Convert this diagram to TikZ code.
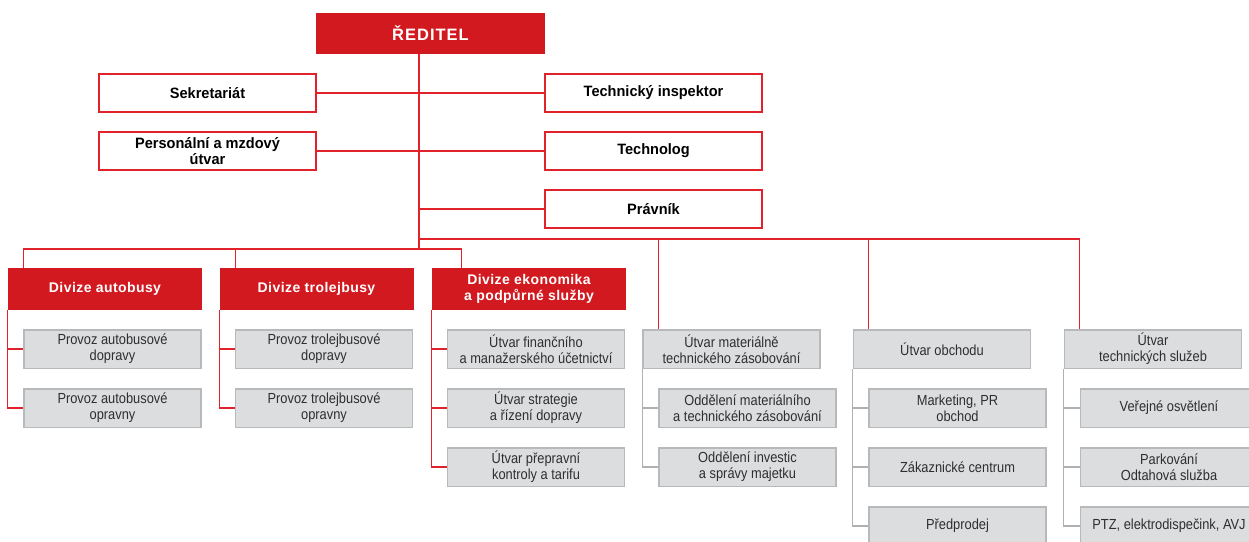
\documentclass[tikz,border=0pt]{standalone}
\usepackage{fontspec}
\setmainfont{Liberation Sans}
\newfontfamily\boldf[FakeStretch=0.97]{Liberation Sans Bold}
\newfontfamily\headf[LetterSpace=6]{Liberation Sans Bold}
\newfontfamily\divf[LetterSpace=3]{Liberation Sans Bold}
\newfontfamily\condf[FakeStretch=0.88]{Liberation Sans}
\usetikzlibrary{calc}
\definecolor{cred}{HTML}{D1191F}
\definecolor{cline}{HTML}{E1222B}
\definecolor{gfill}{HTML}{DCDDDF}
\definecolor{gedge}{HTML}{B8B9BB}
\definecolor{gline}{HTML}{B0B0B0}
\definecolor{gtext}{HTML}{2E2E2E}
\tikzset{
  redline/.style={draw=cline, line width=1.2pt},
  grayline/.style={draw=gline, line width=1.1pt},
  topbox/.style={rectangle, fill=cred, text=white, minimum width=229pt, minimum height=41pt, inner sep=0pt, font=\headf\fontsize{16.5}{18}\selectfont},
  staffbox/.style={rectangle, draw=cline, line width=2pt, fill=white, text=black, minimum width=217pt, minimum height=38pt, inner sep=0pt, align=center, font=\boldf\fontsize{15}{16.5}\selectfont},
  divbox/.style={rectangle, fill=cred, text=white, minimum width=194pt, minimum height=42pt, inner sep=0pt, align=center, font=\divf\fontsize{14}{16}\selectfont},
  unitbox/.style={rectangle, draw=gedge, line width=1.5pt, fill=gfill, text=gtext, minimum width=177pt, minimum height=38.5pt, inner sep=0pt, align=center, font=\condf\fontsize{14.6}{16}\selectfont},
}
\begin{document}
\begin{tikzpicture}[x=1pt,y=-1pt]
\useasboundingbox (0,0) rectangle (1249,541);
\clip (0,0) rectangle (1249,541);
\fill[white] (0,0) rectangle (1249,541);

% director and staff
\node[topbox] (red) at (430.5,33.5) {ŘEDITEL};
\node[staffbox] (sek) at (207.5,93) {Sekretariát};
\node[staffbox] (pers) at (207.5,151) {Personální a mzdový\\útvar};
\node[staffbox] (tinsp) at (653.5,93) {Technický inspektor};
\node[staffbox] (tech) at (653.5,151) {Technolog};
\node[staffbox] (prav) at (653.5,209) {Právník};

\coordinate (jL) at (419,249);
\coordinate (jR) at (419,239);

% divisions
\node[divbox] (dauto) at (105,289) {Divize autobusy};
\node[divbox] (dtrol) at (316.5,289) {Divize trolejbusy};
\node[divbox] (dekon) at (529,289) {Divize ekonomika\\a podpůrné služby};

% units under divisions
\node[unitbox] (a1) at (112.5,349) {Provoz autobusové\\dopravy};
\node[unitbox] (a2) at (112.5,408) {Provoz autobusové\\opravny};
\node[unitbox] (t1) at (324,349) {Provoz trolejbusové\\dopravy};
\node[unitbox] (t2) at (324,408) {Provoz trolejbusové\\opravny};
\node[unitbox] (e1) at (536,349) {Útvar finančního\\a manažerského účetnictví};
\node[unitbox] (e2) at (536,408) {Útvar strategie\\a řízení dopravy};
\node[unitbox] (e3) at (536,467) {Útvar přepravní\\kontroly a tarifu};

% directly managed units
\node[unitbox] (mat) at (731.5,349) {Útvar materiálně\\technického zásobování};
\node[unitbox] (m1) at (747.5,408) {Oddělení materiálního\\a technického zásobování};
\node[unitbox] (m2) at (747.5,467) {Oddělení investic\\a správy majetku};

\node[unitbox] (obch) at (942,349) {Útvar obchodu};
\node[unitbox] (o1) at (957.5,408) {Marketing, PR\\obchod};
\node[unitbox] (o2) at (957.5,467) {Zákaznické centrum};
\node[unitbox] (o3) at (957.5,526) {Předprodej};

\node[unitbox] (ts) at (1153,349) {Útvar\\technických služeb};
\node[unitbox] (s1) at (1169,408) {Veřejné osvětlení};
\node[unitbox] (s2) at (1169,467) {Parkování\\Odtahová služba};
\node[unitbox] (s3) at (1169,526) {PTZ, elektrodispečink, AVJ};

% drop points
\coordinate (pauto) at ($(dauto.north west)+(16,0)$);
\coordinate (ptrol) at ($(dtrol.north west)+(16,0)$);
\coordinate (pekon) at ($(dekon.north west)+(30,0)$);
\coordinate (pmat) at ($(mat.north west)+(16,0)$);
\coordinate (pobch) at ($(obch.north west)+(16,0)$);
\coordinate (pts) at ($(ts.north west)+(16,0)$);

% trunk and staff connectors
\draw[redline] (red.south -| jL) -- (jL);
\draw[redline] (sek.east) -- (tinsp.west);
\draw[redline] (pers.east) -- (tech.west);
\draw[redline] (prav.west) -- (prav.west -| jL);

% division bus
\draw[redline] (pauto) |- (jL) -| (pekon);
\draw[redline] (ptrol) -- (ptrol |- jL);

% unit bus
\draw[redline] (jR) -| (pts);
\draw[redline] (pmat) -- (pmat |- jR);
\draw[redline] (pobch) -- (pobch |- jR);

% division sub-connectors
\draw[redline] (dauto.south west) |- (a1.west);
\draw[redline] (dauto.south west) |- (a2.west);
\draw[redline] (dtrol.south west) |- (t1.west);
\draw[redline] (dtrol.south west) |- (t2.west);
\draw[redline] (dekon.south west) |- (e1.west);
\draw[redline] (dekon.south west) |- (e2.west);
\draw[redline] (dekon.south west) |- (e3.west);

% unit sub-connectors
\draw[grayline] (mat.south west) |- (m1.west);
\draw[grayline] (mat.south west) |- (m2.west);
\draw[grayline] (obch.south west) |- (o1.west);
\draw[grayline] (obch.south west) |- (o2.west);
\draw[grayline] (obch.south west) |- (o3.west);
\draw[grayline] (ts.south west) |- (s1.west);
\draw[grayline] (ts.south west) |- (s2.west);
\draw[grayline] (ts.south west) |- (s3.west);
\end{tikzpicture}
\end{document}
